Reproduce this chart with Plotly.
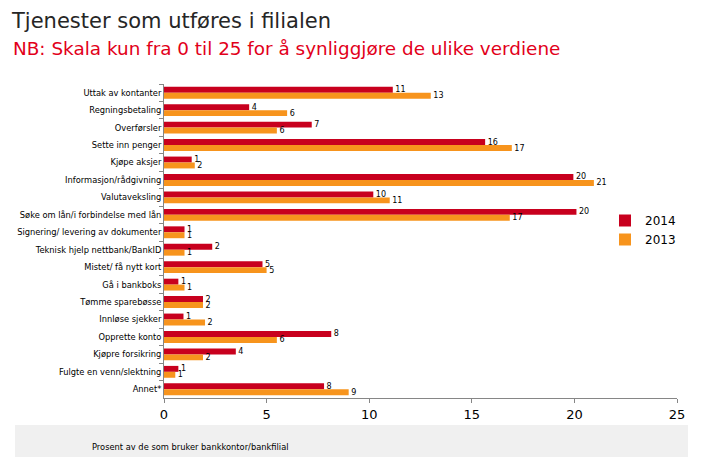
import plotly.graph_objects as go

categories = [
    "Uttak av kontanter", "Regningsbetaling", "Overførsler", "Sette inn penger",
    "Kjøpe aksjer", "Informasjon/rådgivning", "Valutaveksling",
    "Søke om lån/i forbindelse med lån", "Signering/ levering av dokumenter",
    "Teknisk hjelp nettbank/BankID", "Mistet/ få nytt kort", "Gå i bankboks",
    "Tømme sparebøsse", "Innløse sjekker", "Opprette konto", "Kjøpre forsikring",
    "Fulgte en venn/slektning", "Annet*",
]
values_2014 = [11.15, 4.15, 7.2, 15.65, 1.35, 19.95, 10.2, 20.1, 1.0, 2.35, 4.8, 0.7, 1.9, 0.95, 8.15, 3.5, 0.7, 7.8]
values_2013 = [13.0, 6.0, 5.5, 16.95, 1.5, 20.95, 11.0, 16.85, 1.0, 1.0, 5.0, 1.0, 1.9, 2.0, 5.5, 1.9, 0.55, 9.0]
labels_2014 = ["11", "4", "7", "16", "1", "20", "10", "20", "1", "2", "5", "1", "2", "1", "8", "4", "1", "8"]
labels_2013 = ["13", "6", "6", "17", "2", "21", "11", "17", "1", "1", "5", "1", "2", "2", "6", "2", "1", "9"]
x_ticks = [0, 5, 10, 15, 20, 25]

RED = "#C8001E"
ORANGE = "#F7941D"
FONT = "DejaVu Sans"

# page body has an 8px margin: figure is sized to fill the rest of the window
W, H = 693, 449
L, R, T, B = 156, 24, 76, 59
PW = W - L - R
PH = H - T - B


def px(xabs):
    return (xabs - 8 - L) / PW


def py(yabs):
    return (H - B - (yabs - 8)) / PH


fig = go.Figure()
fig.add_trace(go.Bar(
    y=categories, x=values_2014, name="2014", orientation="h",
    marker=dict(color=RED, line=dict(width=0)),
    text=labels_2014, texttemplate=" %{text}", textposition="outside",
    constraintext="none",
    textfont=dict(family=FONT, size=8, color="#000000"), cliponaxis=False,
))
fig.add_trace(go.Bar(
    y=categories, x=values_2013, name="2013", orientation="h",
    marker=dict(color=ORANGE, line=dict(width=0)),
    text=labels_2013, texttemplate=" %{text}", textposition="outside",
    constraintext="none",
    textfont=dict(family=FONT, size=8, color="#000000"), cliponaxis=False,
))

fig.update_layout(
    width=W, height=H,
    margin=dict(l=L, r=R, t=T, b=B, autoexpand=False),
    paper_bgcolor="white", plot_bgcolor="white",
    barmode="group", bargap=0.32, bargroupgap=0,
    showlegend=True,
    legend=dict(x=px(605), y=py(206), xanchor="left", yanchor="top",
                font=dict(family=FONT, size=12, color="#000000"),
                bgcolor="rgba(0,0,0,0)", tracegroupgap=0,
                itemwidth=30),
    xaxis=dict(range=[0, 25], tickvals=x_ticks, ticktext=[str(v) for v in x_ticks],
               showgrid=False, zeroline=False, showline=True, linecolor="#868686",
               linewidth=1, ticks="outside", ticklen=4, tickcolor="#868686",
               tickfont=dict(family=FONT, size=13, color="#000000")),
    yaxis=dict(autorange="reversed", showgrid=False, showline=True,
               linecolor="#868686", linewidth=1, ticks="outside", ticklen=4,
               tickcolor="#868686", tickson="boundaries", automargin=False,
               tickfont=dict(family=FONT, size=8.3, color="#000000")),
    font=dict(family=FONT),
    annotations=[
        dict(text="Tjenester som utføres i filialen", xref="paper", yref="paper",
             x=px(9), y=py(21), xanchor="left", yanchor="middle", showarrow=False,
             font=dict(family=FONT, size=21, color="#262626")),
        dict(text="NB: Skala kun fra 0 til 25 for å synliggjøre de ulike verdiene",
             xref="paper", yref="paper", x=px(11), y=py(48), xanchor="left",
             yanchor="middle", showarrow=False,
             font=dict(family=FONT, size=18.4, color="#E2001A")),
        dict(text="Prosent av de som bruker bankkontor/bankfilial", xref="paper",
             yref="paper", x=px(90), y=py(447), xanchor="left",
             yanchor="middle", showarrow=False,
             font=dict(family=FONT, size=8.3, color="#000000")),
    ],
    shapes=[
        dict(type="rect", xref="paper", yref="paper", x0=px(15),
             x1=px(688), y0=py(425), y1=py(470),
             fillcolor="#F0F0F0", line=dict(width=0), layer="below"),
    ],
)

fig.write_html("out.html")
